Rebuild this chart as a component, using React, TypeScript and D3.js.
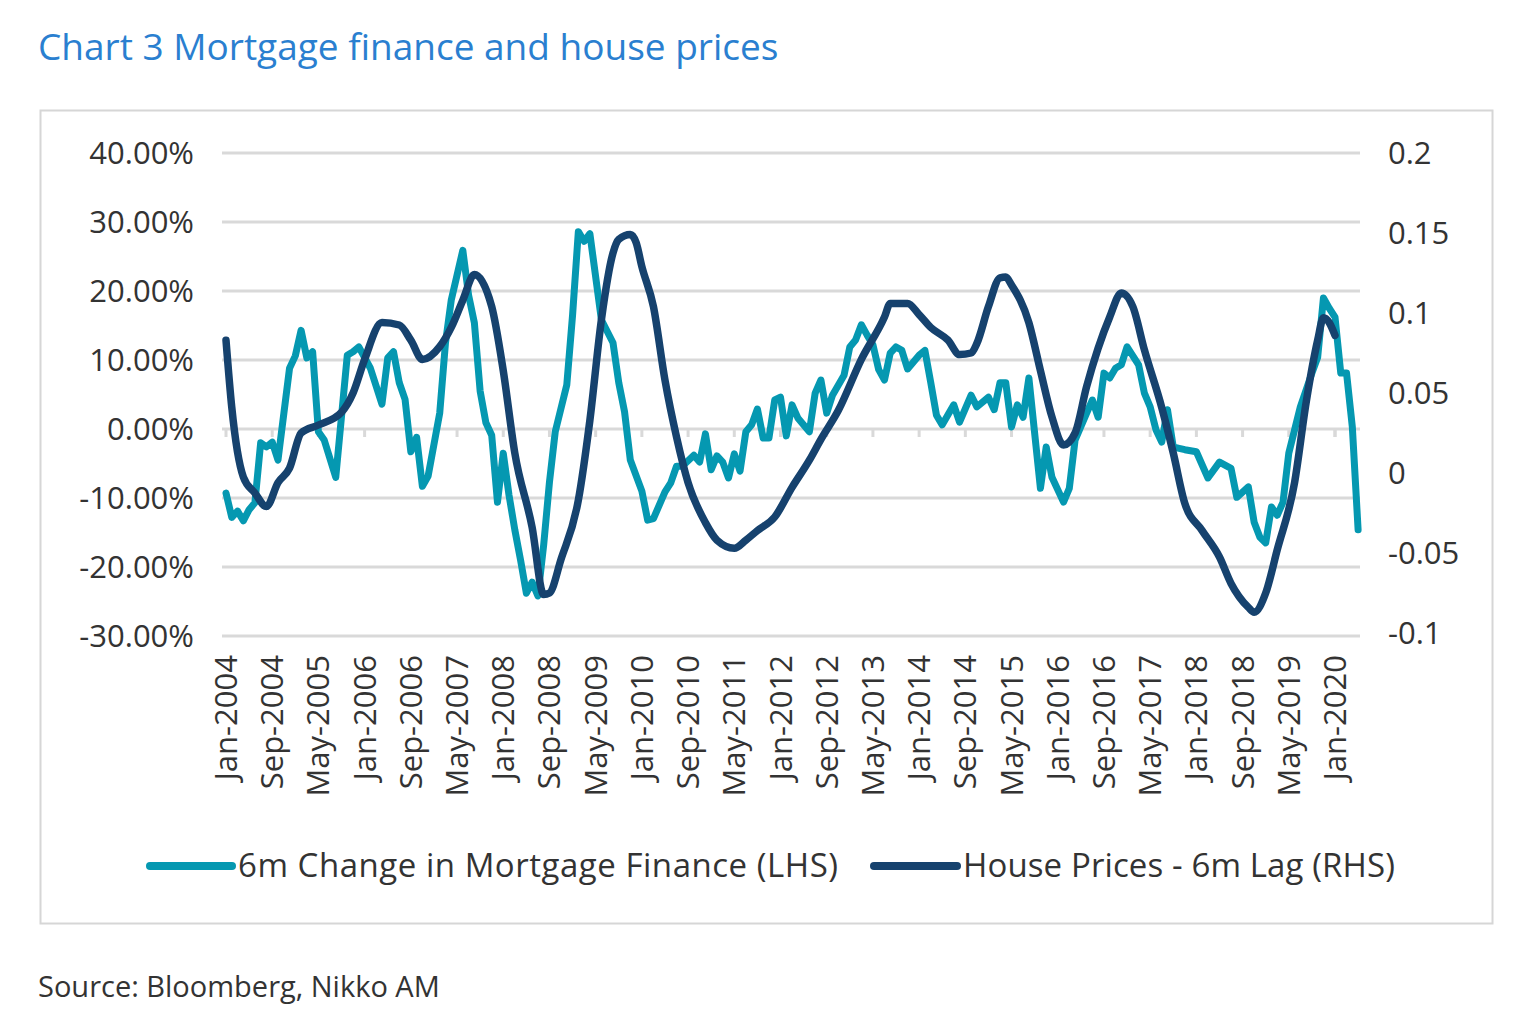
import React from 'react';
import * as d3 from 'd3';

// month index 0 = Jan-2004
const mfMonths = [0,1,2,3,4,5,6,7,8,9,11,12,13,14,15,16,17,19,21,22,23,25,27,28,29,30,31,32,33,34,35,37,38,39,41,42,43,44,45,46,47,48,49,50,51,52,53,54,55,56,57,59,60,61,62,63,65,67,68,69,70,72,73,74,76,77,78,79,80,81,82,83,84,85,86,87,88,89,90,91,92,93,94,95,96,97,98,99,101,102,103,104,105,107,108,109,110,111,112,113,114,115,116,117,118,120,121,122,123,124,126,127,129,130,132,133,134,135,136,137,138,139,141,142,143,145,146,147,149,150,151,152,153,154,155,156,158,159,160,161,162,163,164,165,166,168,170,172,174,175,177,178,179,180,181,182,183,184,186,188,189,190,191,192,193,194,195,196];
const mfValues = [-9.3,-12.8,-11.9,-13.3,-11.7,-10.7,-2.0,-2.6,-1.9,-4.5,8.8,10.6,14.3,10.3,11.2,-0.4,-1.6,-7.0,10.7,11.2,11.9,8.8,3.6,10.3,11.2,6.7,4.3,-3.3,-1.2,-8.3,-6.8,2.3,12.5,18.7,25.9,19.4,15.4,5.5,0.9,-0.9,-10.6,-3.5,-9.6,-14.6,-19,-23.8,-22.2,-24.2,-16.8,-7.7,-0.4,6.4,16.5,28.6,27.2,28.3,15.8,12.5,6.7,2.5,-4.5,-9.0,-13.2,-13.0,-9.1,-7.8,-5.4,-5.4,-4.6,-3.8,-4.8,-0.7,-5.9,-3.9,-4.8,-7.1,-3.6,-6.1,-0.4,0.6,2.9,-1.3,-1.3,4.2,4.6,-1.0,3.5,1.6,-0.4,5.2,7.1,2.3,4.9,7.8,11.9,12.9,15.1,13.6,12.2,8.6,7.1,11.0,11.9,11.4,8.7,10.7,11.4,6.8,2.0,0.6,3.5,1.0,4.9,3.2,4.6,2.8,6.7,6.7,0.3,3.5,1.7,7.4,-8.6,-2.6,-7.0,-10.6,-8.6,-1.6,2.3,4.2,1.7,8.1,7.4,8.8,9.3,11.9,9.3,5.2,3.2,-0.1,-1.9,2.8,-2.6,-2.8,-3.0,-3.3,-7.1,-4.8,-5.7,-9.9,-8.4,-13.5,-15.7,-16.5,-11.3,-12.5,-10.6,-3.5,3.2,8.1,10.4,19.0,17.5,16.2,8.1,8.1,0.3,-14.6];

const hpMonths = [0,1,3,5,7,9,11,13,16,20,22,24,27,30,32,34,37,39,41,43,46,48,50,53,55,56,58,61,63,65,67,68,70,71,72,74,76,78,80,83,85,88,90,92,95,98,101,103,106,110,114,115,118,120,122,125,127,129,130,132,134,135,136,139,141,143,145,147,149,153,155,157,159,162,164,166,169,172,174,177,178,180,182,185,187,189,190,191,192];
const hpValues = [0.083,0.041,-0.0025,-0.0125,-0.021,-0.006,0.003,0.025,0.030,0.038,0.050,0.071,0.094,0.0925,0.083,0.071,0.079,0.091,0.108,0.124,0.104,0.064,0.0125,-0.034,-0.076,-0.075,-0.054,-0.017,0.033,0.096,0.1375,0.146,0.149,0.144,0.129,0.104,0.058,0.0225,-0.006,-0.031,-0.042,-0.047,-0.042,-0.036,-0.0275,-0.009,0.008,0.021,0.039,0.071,0.0975,0.106,0.106,0.099,0.091,0.083,0.074,0.075,0.081,0.104,0.122,0.1225,0.1175,0.094,0.064,0.035,0.0175,0.025,0.054,0.0975,0.1125,0.104,0.077,0.041,0.0125,-0.019,-0.036,-0.0525,-0.069,-0.084,-0.087,-0.075,-0.048,-0.006,0.044,0.083,0.097,0.094,0.086];

const leftTicks = [40, 30, 20, 10, 0, -10, -20, -30];
const rightTicks = [0.2, 0.15, 0.1, 0.05, 0, -0.05, -0.1];
const monthNames = ['Jan','Feb','Mar','Apr','May','Jun','Jul','Aug','Sep','Oct','Nov','Dec'];
const xTickMonths = d3.range(0, 193, 8);

const TEAL = '#0598b1';
const NAVY = '#16426e';
const FONT = '"Open Sans", "Noto Sans", sans-serif';

export default function App() {
  const x = d3.scaleLinear().domain([0, 192]).range([226, 1335]);
  const yL = d3.scaleLinear().domain([-30, 40]).range([636, 153]);
  const yR = d3.scaleLinear().domain([-0.1, 0.2]).range([633, 153]);

  const mfLine = d3.line<number>().x((_, i) => x(mfMonths[i])).y(v => yL(v));
  const hpLine = d3.line<number>().x((_, i) => x(hpMonths[i])).y(v => yR(v)).curve(d3.curveMonotoneX);

  const label = (m: number) => `${monthNames[m % 12]}-${2004 + Math.floor(m / 12)}`;

  return (
    <svg width={1528} height={1033} style={{ position: 'absolute', left: 0, top: 0, background: '#fff' }} fontFamily={FONT}>
      <text x={38} y={60} fontSize={37} fill="#2a7fd0">Chart 3 Mortgage finance and house prices</text>
      <rect x={40.5} y={110.5} width={1452} height={813} fill="none" stroke="#d6d6d6" strokeWidth={2} />

      {leftTicks.map(t => (
        <g key={t}>
          <line x1={222} x2={1360} y1={yL(t)} y2={yL(t)} stroke="#d9d9d9" strokeWidth={3} />
          <text x={194} y={yL(t) + 11} fontSize={31} textAnchor="end" fill="#333">{t.toFixed(2)}%</text>
        </g>
      ))}
      {rightTicks.map(t => (
        <text key={t} x={1388} y={yR(t) + 11} fontSize={31} fill="#333">{String(t)}</text>
      ))}
      {xTickMonths.map(m => (
        <g key={m}>
          <line x1={x(m)} x2={x(m)} y1={yL(0)} y2={yL(0) + 8} stroke="#d9d9d9" strokeWidth={3} />
          <text transform={`translate(${x(m) + 11},${655}) rotate(-90)`} fontSize={31} textAnchor="end" fill="#333">{label(m)}</text>
        </g>
      ))}
      <line x1={x(192)} x2={x(192)} y1={yL(0)} y2={yL(0) + 8} stroke="#d9d9d9" strokeWidth={3} />

      <path d={mfLine(mfValues) || ''} fill="none" stroke={TEAL} strokeWidth={7} strokeLinejoin="round" strokeLinecap="round" />
      <path d={hpLine(hpValues) || ''} fill="none" stroke={NAVY} strokeWidth={7.5} strokeLinejoin="round" strokeLinecap="round" />

      <line x1={150} x2={232} y1={866} y2={866} stroke={TEAL} strokeWidth={8} strokeLinecap="round" />
      <text x={238} y={877} fontSize={33} fill="#333" textLength={600}>6m Change in Mortgage Finance (LHS)</text>
      <line x1={874} x2={957} y1={866} y2={866} stroke={NAVY} strokeWidth={8} strokeLinecap="round" />
      <text x={963} y={877} fontSize={33} fill="#333" textLength={432}>House Prices - 6m Lag (RHS)</text>

      <text x={38} y={997} fontSize={29} fill="#333">Source: Bloomberg, Nikko AM</text>
    </svg>
  );
}
